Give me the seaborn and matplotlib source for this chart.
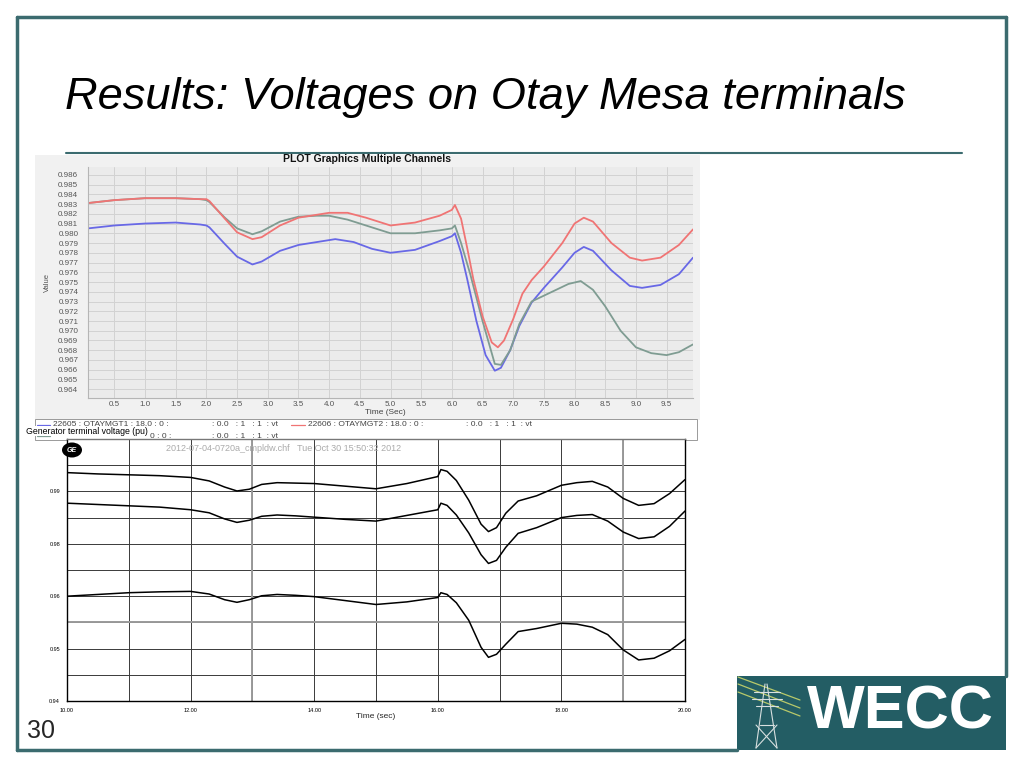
import numpy as np
import matplotlib
matplotlib.use("Agg")
import matplotlib.pyplot as plt
from matplotlib.patches import Rectangle, Ellipse
from matplotlib.lines import Line2D
from matplotlib.ticker import MultipleLocator, FixedLocator, FormatStrFormatter
import seaborn as sns

sns.set_style("white")
plt.rcParams['font.family'] = ['Liberation Sans', 'DejaVu Sans']

# ---- top chart (PSLF plot): three generator terminals ----
t_gt1 = [0.07, 0.5, 1.0, 1.5, 1.9, 2.0, 2.05, 2.3, 2.5, 2.75, 2.9, 3.2, 3.5, 3.8, 4.1, 4.4, 4.7,
         5.0, 5.4, 5.8, 6.0, 6.05, 6.15, 6.25, 6.4, 6.55, 6.7, 6.8, 6.95, 7.1, 7.3, 7.5,
         7.8, 8.0, 8.15, 8.3, 8.6, 8.9, 9.1, 9.4, 9.7, 9.93]
v_gt1 = [0.9805, 0.9808, 0.9810, 0.9811, 0.9809, 0.9808, 0.9806, 0.9789, 0.9776, 0.9768, 0.9771,
         0.9782, 0.9788, 0.9791, 0.9794, 0.9791, 0.9784, 0.9780, 0.9783, 0.9792, 0.9797, 0.9800,
         0.9780, 0.9753, 0.9710, 0.9675, 0.9659, 0.9662, 0.9680, 0.9705, 0.9729, 0.9744, 0.9765,
         0.9780, 0.9786, 0.9782, 0.9762, 0.9746, 0.9744, 0.9747, 0.9758, 0.9775]

t_gt2 = [0.07, 0.5, 1.0, 1.5, 1.9, 2.0, 2.05, 2.3, 2.5, 2.75, 2.9, 3.2, 3.5, 3.8, 4.0, 4.3, 4.6,
         5.0, 5.4, 5.8, 6.0, 6.05, 6.15, 6.25, 6.35, 6.5, 6.65, 6.75, 6.85, 7.0, 7.15, 7.3,
         7.5, 7.8, 8.0, 8.15, 8.3, 8.6, 8.9, 9.1, 9.4, 9.7, 9.93]
v_gt2 = [0.9831, 0.9834, 0.9836, 0.9836, 0.9835, 0.9835, 0.9833, 0.9815, 0.9801, 0.9794, 0.9796,
         0.9808, 0.9816, 0.9819, 0.9821, 0.9821, 0.9816, 0.9808, 0.9811, 0.9818, 0.9824, 0.9829,
         0.9815, 0.9785, 0.9753, 0.9715, 0.9688, 0.9683, 0.9690, 0.9712, 0.9738, 0.9752, 0.9766,
         0.9790, 0.9810, 0.9816, 0.9812, 0.9790, 0.9775, 0.9772, 0.9775, 0.9788, 0.9804]

t_st1 = [0.07, 0.5, 1.0, 1.5, 1.9, 2.0, 2.05, 2.3, 2.5, 2.75, 2.9, 3.2, 3.5, 3.8, 4.0, 4.3, 4.6,
         5.0, 5.4, 5.8, 6.0, 6.05, 6.15, 6.3, 6.5, 6.7, 6.8, 6.95, 7.1, 7.3, 7.5, 7.7, 7.9,
         8.1, 8.3, 8.5, 8.75, 9.0, 9.25, 9.5, 9.7, 9.93]
v_st1 = [0.9831, 0.9834, 0.9836, 0.9836, 0.9835, 0.9834, 0.9832, 0.9816, 0.9805, 0.9799, 0.9802,
         0.9812, 0.9817, 0.9818, 0.9818, 0.9814, 0.9808, 0.9800, 0.9800, 0.9803, 0.9805, 0.9808,
         0.9790, 0.9758, 0.9710, 0.9666, 0.9665, 0.9680, 0.9707, 0.9730, 0.9736, 0.9742, 0.9748,
         0.9751, 0.9742, 0.9725, 0.9700, 0.9683, 0.9677, 0.9675, 0.9678, 0.9686]

top_ticks_x = [0.5, 1.0, 1.5, 2.0, 2.5, 3.0, 3.5, 4.0, 4.5, 5.0, 5.5, 6.0, 6.5, 7.0, 7.5, 8.0, 8.5, 9.0, 9.5]
legend_row1 = ["22605 : OTAYMGT1 : 18.0 : 0 :", ": 0.0   : 1   : 1  : vt",
               "22606 : OTAYMGT2 : 18.0 : 0 :", ": 0.0   : 1   : 1  : vt"]
legend_row2 = ["22607 : OTAYMST1 : 18.0 : 0 :", ": 0.0   : 1   : 1  : vt"]

# ---- bottom chart (GE PSLF): three traces 10-20 s ----
t_low = [10.0, 10.5, 11.0, 11.5, 12.0, 12.3, 12.55, 12.75, 12.95, 13.15, 13.4, 13.7, 14.0, 14.5,
         15.0, 15.5, 16.0, 16.05, 16.15, 16.3, 16.5, 16.7, 16.82, 16.95, 17.1, 17.3, 17.6, 18.0,
         18.25, 18.5, 18.75, 19.0, 19.25, 19.5, 19.75, 20.0]
v_a = [0.9923, 0.9920, 0.9918, 0.9916, 0.9912, 0.9904, 0.9890, 0.9881, 0.9885, 0.9896, 0.9900,
       0.9899, 0.9898, 0.9892, 0.9886, 0.9898, 0.9914, 0.9930, 0.9926, 0.9905, 0.9860, 0.9805,
       0.9788, 0.9797, 0.9830, 0.9858, 0.9870, 0.9894, 0.9900, 0.9903, 0.9890, 0.9864, 0.9848,
       0.9852, 0.9875, 0.9907]
v_b = [0.9853, 0.9850, 0.9847, 0.9844, 0.9838, 0.9831, 0.9817, 0.9809, 0.9814, 0.9823, 0.9826,
       0.9824, 0.9821, 0.9816, 0.9812, 0.9825, 0.9838, 0.9853, 0.9848, 0.9826, 0.9785, 0.9735,
       0.9715, 0.9722, 0.9752, 0.9784, 0.9797, 0.9820, 0.9825, 0.9827, 0.9812, 0.9787, 0.9772,
       0.9776, 0.9800, 0.9835]
v_c = [0.9640, 0.9644, 0.9648, 0.9650, 0.9651, 0.9645, 0.9632, 0.9626, 0.9632, 0.9641, 0.9644,
       0.9642, 0.9639, 0.9630, 0.9621, 0.9627, 0.9637, 0.9648, 0.9644, 0.9625, 0.9585, 0.9523,
       0.9500, 0.9507, 0.9530, 0.9559, 0.9566, 0.9578, 0.9576, 0.9569, 0.9552, 0.9517, 0.9494,
       0.9498, 0.9515, 0.9541]

W, H = 1024, 768
fig = plt.figure(figsize=(W / 100, H / 100), dpi=100)
fig.patch.set_facecolor("white")


def fx(x):
    return x / W


def fy(y):
    return 1 - y / H


teal = "#3b6b6f"

# slide frame
fig.add_artist(Line2D([fx(17), fx(17)], [fy(17), fy(750)], color=teal, lw=2.5))
fig.add_artist(Line2D([fx(17), fx(1006)], [fy(17), fy(17)], color=teal, lw=2.5))
fig.add_artist(Line2D([fx(1006), fx(1006)], [fy(17), fy(676)], color=teal, lw=2.5))
fig.add_artist(Line2D([fx(17), fx(737)], [fy(750), fy(750)], color=teal, lw=2.5))
fig.add_artist(Line2D([fx(66), fx(962)], [fy(153), fy(153)], color=teal, lw=1.5))

fig.text(fx(65), fy(97), "Results: Voltages on Otay Mesa terminals", fontsize=32.6,
         style="italic", va="center", ha="left", color="black")
fig.text(fx(27), fy(731), "30", fontsize=18, va="center", ha="left")

# WECC logo
fig.add_artist(Rectangle((fx(737), fy(750)), fx(269), 74 / H, transform=fig.transFigure,
                         facecolor="#235d64", edgecolor="none"))
fig.text(fx(900), fy(713), "WECC", color="white", fontsize=44, fontweight="bold",
         ha="center", va="center")
for y0, y1 in [(677, 700), (684, 708), (692, 716)]:
    fig.add_artist(Line2D([fx(738), fx(800)], [fy(y0), fy(y1)], color="#b8c96a", lw=0.9))
for xs, ys in [([765, 756], [684, 748]), ([767, 777], [684, 748]), ([756, 777], [725, 748]),
               ([777, 756], [725, 748]), ([754, 780], [692, 692]), ([752, 782], [699, 699]),
               ([756, 778], [706, 706]), ([760, 774], [725, 725])]:
    fig.add_artist(Line2D([fx(x) for x in xs], [fy(y) for y in ys], color="#d8e0e0", lw=0.8))

# ---------------- top screenshot ----------------
fig.add_artist(Rectangle((fx(35), fy(420)), fx(665), 265 / H, transform=fig.transFigure,
                         facecolor="#f1f1f1", edgecolor="none", zorder=-3))
ax1 = fig.add_axes([fx(88), fy(398), fx(605), 231 / H])
ax1.set_facecolor("#ebebeb")
sns.lineplot(x=t_gt1, y=v_gt1, ax=ax1, color="#6868e6", lw=1.3)
sns.lineplot(x=t_st1, y=v_st1, ax=ax1, color="#7f9c92", lw=1.3)
sns.lineplot(x=t_gt2, y=v_gt2, ax=ax1, color="#f07474", lw=1.3)
ax1.set_xlim(0.07, 9.93)
ax1.set_ylim(0.9631, 0.9868)
ax1.xaxis.set_major_locator(FixedLocator(top_ticks_x))
ax1.yaxis.set_major_locator(MultipleLocator(0.001))
ax1.yaxis.set_major_formatter(FormatStrFormatter("%.3f"))
ax1.xaxis.set_major_formatter(FormatStrFormatter("%.1f"))
ax1.grid(True, color="#d2d2d2", lw=0.7)
ax1.tick_params(axis="y", labelsize=5.8, colors="#555555", length=0, pad=7)
ax1.tick_params(axis="x", labelsize=5.8, colors="#555555", length=0, pad=2)
for s in ax1.spines.values():
    s.set_visible(False)
ax1.spines["left"].set_visible(True)
ax1.spines["left"].set_color("#b5b5b5")
ax1.spines["bottom"].set_visible(True)
ax1.spines["bottom"].set_color("#b5b5b5")
ax1.set_xlabel("")
ax1.set_ylabel("")

fig.text(fx(367), fy(159), "PLOT Graphics Multiple Channels", fontsize=7.5, fontweight="heavy",
         ha="center", va="center", color="#111111")
fig.text(fx(47), fy(283), "Value", fontsize=5.5, rotation=90, ha="center", va="center",
         color="#555555")
fig.text(fx(385), fy(413), "Time (Sec)", fontsize=6, ha="center", va="center", color="#444444")

# legend strip
fig.add_artist(Rectangle((fx(35), fy(440)), fx(662), 21 / H, transform=fig.transFigure,
                         facecolor="white", edgecolor="#9a9a9a", lw=0.7, zorder=-2))
fig.add_artist(Line2D([fx(37), fx(50)], [fy(425), fy(425)], color="#6868e6", lw=0.9))
fig.text(fx(53), fy(425), legend_row1[0], fontsize=6, va="center", color="#444444")
fig.text(fx(212), fy(425), legend_row1[1], fontsize=6, va="center", color="#444444")
fig.add_artist(Line2D([fx(291), fx(305)], [fy(425), fy(425)], color="#f07474", lw=0.9))
fig.text(fx(308), fy(425), legend_row1[2], fontsize=6, va="center", color="#444444")
fig.text(fx(466), fy(425), legend_row1[3], fontsize=6, va="center", color="#444444")
fig.add_artist(Line2D([fx(37), fx(50)], [fy(436), fy(436)], color="#7f9c92", lw=0.9, zorder=-1))
fig.text(fx(212), fy(436), legend_row2[1], fontsize=6, va="center", color="#444444", zorder=-1)
fig.text(fx(26), fy(431), "Generator terminal voltage (pu)", fontsize=6.3, va="center",
         color="black", bbox=dict(facecolor="white", edgecolor="none", pad=0.2))
fig.text(fx(150), fy(436), legend_row2[0][-7:], fontsize=6, va="center", color="#444444",
         zorder=-1)

# ---------------- bottom screenshot ----------------
ax2 = fig.add_axes([fx(67), fy(701), fx(618), 262 / H])
ax2.set_facecolor("white")
ax2.set_xlim(10, 20)
ax2.set_ylim(0.94, 1.0)
ax2.xaxis.set_major_locator(FixedLocator([10, 12, 14, 16, 18, 20]))
ax2.xaxis.set_minor_locator(MultipleLocator(1))
ax2.xaxis.set_major_formatter(FormatStrFormatter("%.2f"))
ax2.yaxis.set_major_locator(FixedLocator([0.94, 0.952, 0.964, 0.976, 0.988]))
ax2.yaxis.set_minor_locator(FixedLocator([0.946, 0.958, 0.970, 0.982, 0.994]))
ax2.yaxis.set_major_formatter(FormatStrFormatter("%.2f"))
ax2.grid(True, which="both", color="#3a3a3a", lw=0.7)
ax2.tick_params(axis="both", which="major", labelsize=4, length=3, width=0.7, pad=2, colors="black")
ax2.tick_params(axis="both", which="minor", length=0)
for gx in [13, 19]:
    ax2.axvline(gx, color="#9a9a9a", lw=1.4, zorder=1)
ax2.axhline(0.958, color="#9a9a9a", lw=1.4, zorder=1)
for c in [v_a, v_b, v_c]:
    sns.lineplot(x=t_low, y=c, ax=ax2, color="black", lw=1.1, zorder=3)
for s in ax2.spines.values():
    s.set_color("black")
    s.set_linewidth(1.0)
ax2.spines["top"].set_color("#777777")
ax2.set_xlabel("")
ax2.set_ylabel("")
ax2.text(0.16, 0.965, "2012-07-04-0720a_cmpldw.chf   Tue Oct 30 15:50:32 2012",
         transform=ax2.transAxes, fontsize=6.5, color="#aaaaaa", va="center", ha="left")
fig.add_artist(Ellipse((fx(72), fy(450)), 20 / W, 15 / H, transform=fig.transFigure,
                       facecolor="black", edgecolor="none", zorder=4))
fig.text(fx(72), fy(450), "GE", fontsize=5, color="white", fontweight="bold", style="italic",
         ha="center", va="center", zorder=5)
fig.text(fx(376), fy(716), "Time (sec)", fontsize=6, ha="center", va="center")

fig.savefig("out.png", dpi=100)
